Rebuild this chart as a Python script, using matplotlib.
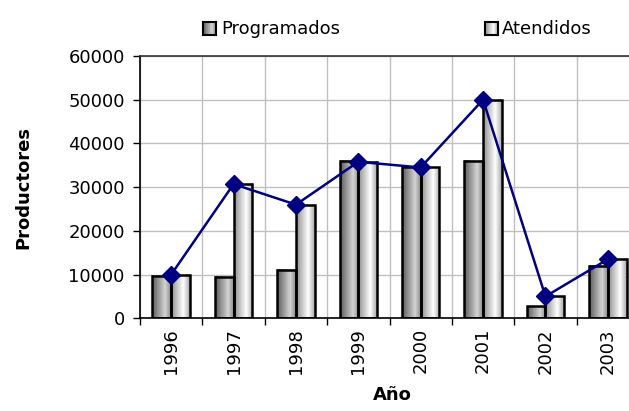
import matplotlib
matplotlib.use("Agg")
import matplotlib.pyplot as plt
import numpy as np
from matplotlib.colors import LinearSegmentedColormap

years = ["1996", "1997", "1998", "1999", "2000", "2001", "2002", "2003"]
programados = [9700, 9500, 11000, 36000, 34500, 36000, 2700, 12000]
atendidos = [10000, 30700, 26000, 35800, 34500, 50000, 5000, 13500]

plt.rcParams['font.family'] = ['DejaVu Sans']

W, H = 629, 411
fig = plt.figure(figsize=(W / 100, H / 100), dpi=100)
ax = fig.add_axes([140 / W, 92.7 / H, 499 / W, 262.3 / H])

cmap_prog = LinearSegmentedColormap.from_list(
    "prog", [(0, "#5c5c5c"), (0.7, "#d4d4d4"), (1, "#8a8a8a")])
cmap_aten = LinearSegmentedColormap.from_list(
    "aten", [(0, "#8e8e8e"), (0.65, "#ffffff"), (1, "#a8a8a8")])
grad = np.linspace(0, 1, 64).reshape(1, -1)

x = np.arange(len(years))
bw = 0.3
for vals, off, cm in [(programados, -bw / 2, cmap_prog), (atendidos, bw / 2, cmap_aten)]:
    bars = ax.bar(x + off, vals, width=bw, fill=False, edgecolor="black",
                  linewidth=1.8, zorder=3)
    for b in bars:
        x0, y0 = b.get_x(), b.get_y()
        ax.imshow(grad, extent=(x0, x0 + b.get_width(), y0, y0 + b.get_height()),
                  aspect="auto", cmap=cm, interpolation="bilinear", zorder=2)

ax.plot(x, atendidos, color="#000080", linewidth=1.8, marker="D",
        markersize=9, zorder=4)

ax.set_xlim(-0.5, len(years) - 0.5)
ax.set_ylim(0, 60000)
ax.set_yticks(np.arange(0, 60001, 10000))
ax.set_yticklabels([str(v) for v in range(0, 60001, 10000)], fontsize=13)
ax.set_xticks(np.arange(-0.5, len(years), 1.0))
ax.set_xticklabels([])
ax.set_xticks(x, minor=True)
ax.set_xticklabels(years, minor=True, rotation=90, fontsize=13)
ax.tick_params(axis="x", which="minor", length=0, pad=7)
ax.tick_params(axis="x", which="major", length=5, width=1, color="black")
ax.tick_params(axis="y", length=5, width=1, pad=6)
ax.grid(True, which="major", color="#c0c0c0", linewidth=1)
ax.set_axisbelow(True)
for s in ["left", "bottom"]:
    ax.spines[s].set_color("black")
    ax.spines[s].set_linewidth(1.2)
ax.spines["top"].set_color("#333333")
ax.spines["top"].set_linewidth(1.2)
ax.spines["right"].set_color("#333333")

fig.text(23 / W, 1 - 187 / H, "Productores", rotation=90, fontsize=13,
         fontweight="bold", ha="center", va="center")
fig.text(392 / W, 1 - 395 / H, "Año", fontsize=13, fontweight="bold",
         ha="center", va="center")

# legend
for px, tx, label, cm in [(203, 221, "Programados", cmap_prog), (485, 502, "Atendidos", cmap_aten)]:
    lax = fig.add_axes([px / W, 1 - 35 / H, 13 / W, 13 / H])
    lax.imshow(grad, aspect="auto", cmap=cm, interpolation="bilinear")
    lax.set_xticks([])
    lax.set_yticks([])
    for s in lax.spines.values():
        s.set_linewidth(1.5)
        s.set_color("black")
    fig.text(tx / W, 1 - 28.5 / H, label, fontsize=13, ha="left", va="center")

fig.savefig("out.png", dpi=100)
